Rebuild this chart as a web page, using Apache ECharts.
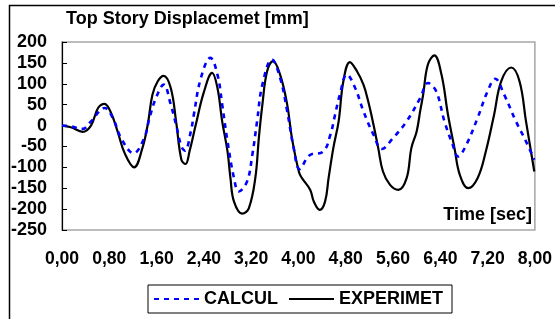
<!DOCTYPE html>
<html>
<head>
<meta charset="utf-8">
<script src="https://cdn.jsdelivr.net/npm/echarts@6/dist/echarts.min.js"></script>
<style>
html,body{margin:0;padding:0;background:#fff;}
#chart{width:555px;height:319px;}
</style>
</head>
<body>
<div id="chart"></div>
<script>
// ---- Data ----
const calcTime = [0,0.15,0.35,0.49,0.72,0.86,1.00,1.21,1.39,1.48,1.59,1.72,1.84,1.93,2.02,2.08,2.18,2.23,2.35,2.51,2.63,2.71,2.80,2.91,2.99,3.13,3.22,3.30,3.39,3.55,3.69,3.81,3.92,4.02,4.19,4.42,4.54,4.62,4.70,4.82,4.96,5.10,5.27,5.41,5.60,5.83,6.06,6.19,6.33,6.47,6.61,6.70,6.84,7.03,7.20,7.33,7.48,7.68,7.85,7.99];
const calcValue = [0,-2,-8,10,42,18,-30,-66,-30,18,66,98,50,2,-50,-60,-14,26,114,162,122,50,-38,-126,-158,-134,-70,10,98,158,114,34,-54,-104,-71,-62,-22,26,74,122,90,34,-22,-56,-30,10,66,102,82,10,-46,-74,-46,18,82,112,74,10,-38,-82];

const expTime = [0,0.15,0.35,0.49,0.61,0.72,0.83,0.94,1.06,1.22,1.36,1.45,1.53,1.62,1.72,1.84,1.93,2.02,2.09,2.16,2.26,2.40,2.54,2.63,2.71,2.80,2.85,2.91,3.05,3.16,3.27,3.33,3.39,3.47,3.57,3.69,3.81,3.89,4.01,4.06,4.20,4.26,4.36,4.45,4.51,4.59,4.68,4.76,4.87,4.99,5.10,5.18,5.27,5.35,5.43,5.55,5.69,5.83,5.91,6.00,6.06,6.11,6.19,6.30,6.42,6.53,6.64,6.73,6.87,7.03,7.17,7.31,7.43,7.60,7.74,7.85,7.99];
const expValue = [0,-4,-15,0,42,52,30,-14,-66,-100,-54,2,74,106,119,90,10,-82,-92,-60,0,80,126,90,10,-62,-126,-182,-211,-198,-126,-30,50,130,154,122,50,-30,-112,-126,-154,-182,-202,-182,-126,-54,10,106,152,130,98,58,2,-54,-110,-142,-154,-126,-54,-14,35,74,146,168,122,26,-54,-118,-150,-126,-62,26,106,139,106,10,-110];

const seriesNames = ['CALCUL', 'EXPERIMET'];
const titleText = 'Top Story Displacemet [mm]';
const xAxisTitle = 'Time [sec]';

const pairs = (ts, vs) => ts.map((t, i) => [t, vs[i]]);
const FONT = '"Liberation Sans", Arial, sans-serif';

const chart = echarts.init(document.getElementById('chart'), null, {renderer: 'canvas'});
chart.setOption({
  animation: false,
  backgroundColor: '#fff',
  title: {
    text: titleText,
    left: 66, top: 10, padding: 0,
    textStyle: {fontFamily: FONT, fontWeight: 'bold', fontSize: 18, color: '#000'}
  },
  grid: {
    left: 62, right: 18, top: 42, bottom: 89,
    show: true, borderColor: '#a6a6a6', borderWidth: 1.5, backgroundColor: 'transparent'
  },
  xAxis: {
    type: 'value', min: 0, max: 8, interval: 0.8,
    axisLine: {show: false},
    axisTick: {show: false},
    splitLine: {show: false},
    axisLabel: {
      margin: 20, color: '#000', fontFamily: FONT, fontWeight: 'bold', fontSize: 17.6,
      formatter: v => v.toFixed(2).replace('.', ','),
      showMinLabel: true, showMaxLabel: true
    }
  },
  yAxis: {
    type: 'value', min: -250, max: 200, interval: 50,
    axisLine: {show: true, lineStyle: {color: '#000', width: 1.2}},
    axisTick: {show: true, inside: true, length: 5, lineStyle: {color: '#000', width: 1}},
    splitLine: {show: false},
    axisLabel: {margin: 15, color: '#000', fontFamily: FONT, fontWeight: 'bold', fontSize: 18}
  },
  legend: {
    left: 148, top: 285,
    padding: [5, 9, 5, 5],
    itemGap: 10, itemWidth: 45, itemHeight: 14,
    borderColor: '#000', borderWidth: 1,
    backgroundColor: '#fff',
    itemStyle: {opacity: 0},
    textStyle: {fontFamily: FONT, fontWeight: 'bold', fontSize: 18, color: '#000'},
    data: seriesNames
  },
  graphic: [{
    type: 'text', right: 23, top: 206,
    style: {text: xAxisTitle, font: 'bold 18px ' + FONT, fill: '#000'}
  }, {
    type: 'rect', left: 7, top: 3,
    shape: {x: 0, y: 0, width: 560, height: 330},
    style: {fill: 'none', stroke: '#000', lineWidth: 1.5},
    silent: true
  }],
  series: [{
    name: seriesNames[0], type: 'line', data: pairs(calcTime, calcValue),
    smooth: 0.4, symbol: 'none', z: 3,
    lineStyle: {color: '#0000ff', width: 2.6, type: [5, 5]},
    itemStyle: {color: '#0000ff'}
  }, {
    name: seriesNames[1], type: 'line', data: pairs(expTime, expValue),
    smooth: 0.4, symbol: 'none', z: 2,
    lineStyle: {color: '#000', width: 2.2, type: 'solid'},
    itemStyle: {color: '#000'}
  }]
});
</script>
</body>
</html>
